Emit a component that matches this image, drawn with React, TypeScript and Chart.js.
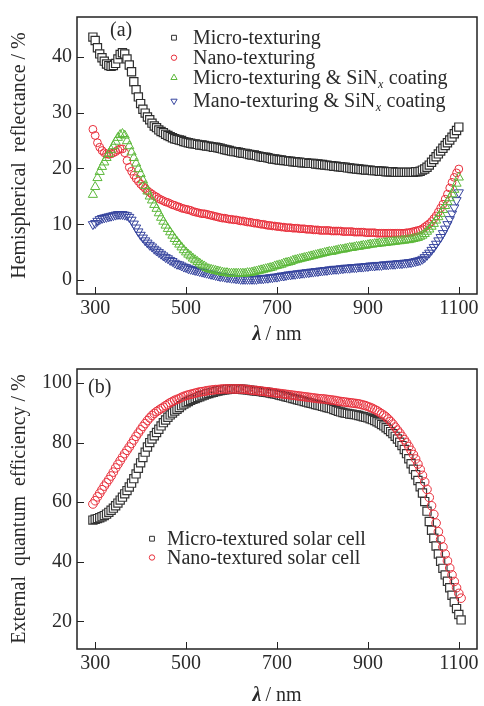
import { useEffect, useRef } from "react";
import { Chart, registerables } from "chart.js";

Chart.register(...registerables);

const FONT = '"Liberation Serif", "DejaVu Serif", "Times New Roman", serif';
const TEXT = "#2a2a2a";

// ---------- Panel (a): hemispherical reflectance ----------
const waveA = [
  295, 300, 305, 310, 315, 320, 325, 330, 335, 340,
  345, 350, 355, 360, 365, 370, 375, 380, 385, 390,
  395, 400, 405, 410, 415, 420, 425, 430, 435, 440,
  445, 450, 455, 460, 465, 470, 475, 480, 485, 490,
  495, 500, 505, 510, 515, 520, 525, 530, 535, 540,
  545, 550, 555, 560, 565, 570, 575, 580, 585, 590,
  595, 600, 605, 610, 615, 620, 625, 630, 635, 640,
  645, 650, 655, 660, 665, 670, 675, 680, 685, 690,
  695, 700, 705, 710, 715, 720, 725, 730, 735, 740,
  745, 750, 755, 760, 765, 770, 775, 780, 785, 790,
  795, 800, 805, 810, 815, 820, 825, 830, 835, 840,
  845, 850, 855, 860, 865, 870, 875, 880, 885, 890,
  895, 900, 905, 910, 915, 920, 925, 930, 935, 940,
  945, 950, 955, 960, 965, 970, 975, 980, 985, 990,
  995, 1000, 1005, 1010, 1015, 1020, 1025, 1030, 1035, 1040,
  1045, 1050, 1055, 1060, 1065, 1070, 1075, 1080, 1085, 1090,
  1095, 1100,
];

const microTexturing = [
  43.5, 42.9, 41.6, 40.5, 39.8, 39.2, 38.7, 38.4, 38.3, 38.4,
  38.8, 39.6, 40.4, 40.7, 40.5, 39.6, 38.5, 37.3, 35.5, 34.1,
  32.8, 31.6, 30.6, 29.9, 29.2, 28.7, 28.1, 27.6, 27.3, 26.9,
  26.6, 26.4, 26.1, 25.9, 25.7, 25.5, 25.3, 25.2, 25.1, 25.0,
  24.8, 24.7, 24.6, 24.5, 24.4, 24.4, 24.3, 24.2, 24.2, 24.1,
  24.0, 24.0, 23.9, 23.8, 23.8, 23.7, 23.6, 23.5, 23.4, 23.3,
  23.2, 23.1, 23.0, 23.0, 22.9, 22.8, 22.7, 22.7, 22.6, 22.5,
  22.4, 22.4, 22.3, 22.2, 22.1, 22.0, 22.0, 21.9, 21.8, 21.7,
  21.7, 21.6, 21.5, 21.5, 21.4, 21.4, 21.3, 21.3, 21.2, 21.2,
  21.1, 21.1, 21.0, 21.0, 21.0, 20.9, 20.9, 20.9, 20.8, 20.8,
  20.7, 20.7, 20.6, 20.6, 20.5, 20.5, 20.4, 20.4, 20.3, 20.3,
  20.2, 20.2, 20.1, 20.1, 20.0, 20.0, 19.9, 19.9, 19.8, 19.8,
  19.7, 19.7, 19.7, 19.6, 19.6, 19.6, 19.5, 19.5, 19.5, 19.4,
  19.4, 19.4, 19.4, 19.3, 19.3, 19.3, 19.3, 19.3, 19.3, 19.3,
  19.3, 19.3, 19.4, 19.4, 19.5, 19.7, 19.9, 20.2, 20.6, 21.1,
  21.6, 22.1, 22.6, 23.1, 23.6, 24.1, 24.6, 25.1, 25.6, 26.2,
  26.8, 27.4,
];

const nanoTexturing = [
  27.0, 25.9, 24.6, 23.8, 23.2, 22.8, 22.6, 22.5, 22.6, 22.8,
  23.0, 23.3, 23.5, 23.5, 22.8, 21.4, 20.2, 19.5, 18.8, 18.2,
  17.7, 17.2, 16.8, 16.4, 16.0, 15.7, 15.4, 15.1, 14.9, 14.6,
  14.4, 14.2, 14.0, 13.9, 13.7, 13.5, 13.4, 13.2, 13.1, 12.9,
  12.8, 12.7, 12.6, 12.5, 12.3, 12.2, 12.1, 12.0, 11.9, 11.9,
  11.8, 11.7, 11.6, 11.5, 11.4, 11.3, 11.2, 11.1, 11.1, 11.0,
  10.9, 10.9, 10.8, 10.8, 10.7, 10.6, 10.6, 10.5, 10.4, 10.4,
  10.3, 10.2, 10.2, 10.1, 10.0, 10.0, 9.9, 9.8, 9.8, 9.7,
  9.7, 9.6, 9.6, 9.5, 9.5, 9.4, 9.4, 9.4, 9.3, 9.3,
  9.3, 9.2, 9.2, 9.2, 9.1, 9.1, 9.1, 9.0, 9.0, 9.0,
  8.9, 8.9, 8.9, 8.9, 8.9, 8.8, 8.8, 8.8, 8.8, 8.8,
  8.7, 8.7, 8.7, 8.7, 8.7, 8.6, 8.6, 8.6, 8.6, 8.6,
  8.5, 8.5, 8.5, 8.5, 8.5, 8.4, 8.4, 8.4, 8.4, 8.4,
  8.4, 8.4, 8.4, 8.4, 8.4, 8.4, 8.4, 8.4, 8.5, 8.5,
  8.6, 8.7, 8.8, 8.9, 9.0, 9.2, 9.5, 9.8, 10.1, 10.5,
  11.0, 11.5, 12.2, 12.9, 13.6, 14.5, 15.4, 16.5, 17.5, 18.4,
  19.2, 19.9,
];

const microSiNx = [
  15.3, 16.7, 18.3, 19.4, 20.3, 21.1, 21.9, 22.6, 23.3, 24.0,
  24.8, 25.5, 26.0, 26.2, 25.9, 24.9, 24.0, 22.9, 21.9, 20.9,
  19.9, 19.0, 17.9, 16.9, 15.9, 15.0, 14.3, 13.5, 12.8, 12.0,
  11.2, 10.5, 9.8, 9.2, 8.6, 8.0, 7.4, 6.9, 6.4, 5.9,
  5.4, 5.0, 4.6, 4.3, 3.9, 3.6, 3.3, 3.0, 2.7, 2.5,
  2.2, 2.0, 1.9, 1.8, 1.7, 1.6, 1.5, 1.4, 1.3, 1.3,
  1.2, 1.2, 1.2, 1.2, 1.2, 1.2, 1.2, 1.2, 1.3, 1.3,
  1.4, 1.5, 1.6, 1.7, 1.8, 1.9, 2.0, 2.1, 2.2, 2.3,
  2.5, 2.6, 2.7, 2.8, 3.0, 3.1, 3.2, 3.3, 3.5, 3.6,
  3.7, 3.8, 3.9, 4.0, 4.1, 4.2, 4.3, 4.4, 4.5, 4.6,
  4.7, 4.8, 4.9, 5.0, 5.1, 5.1, 5.2, 5.3, 5.4, 5.5,
  5.5, 5.6, 5.7, 5.8, 5.8, 5.9, 6.0, 6.0, 6.1, 6.2,
  6.2, 6.3, 6.4, 6.4, 6.5, 6.5, 6.6, 6.6, 6.7, 6.7,
  6.8, 6.8, 6.9, 6.9, 7.0, 7.0, 7.1, 7.1, 7.2, 7.2,
  7.3, 7.4, 7.5, 7.6, 7.8, 8.0, 8.3, 8.7, 9.1, 9.6,
  10.1, 10.7, 11.3, 11.9, 12.6, 13.3, 14.0, 14.7, 15.4, 16.2,
  17.3, 18.4,
];

const nanoSiNx = [
  10.0, 10.2, 10.6, 10.9, 11.1, 11.2, 11.3, 11.4, 11.5, 11.6,
  11.7, 11.8, 11.8, 11.8, 11.7, 11.6, 11.3, 10.8, 10.1, 9.4,
  8.7, 8.1, 7.6, 7.1, 6.7, 6.3, 6.0, 5.6, 5.3, 5.0,
  4.7, 4.4, 4.1, 3.9, 3.6, 3.4, 3.1, 2.9, 2.8, 2.6,
  2.4, 2.3, 2.1, 2.0, 1.9, 1.8, 1.7, 1.6, 1.5, 1.4,
  1.3, 1.2, 1.1, 1.0, 0.9, 0.8, 0.7, 0.7, 0.6, 0.5,
  0.5, 0.4, 0.4, 0.3, 0.3, 0.2, 0.2, 0.2, 0.2, 0.2,
  0.2, 0.2, 0.2, 0.3, 0.3, 0.3, 0.4, 0.4, 0.5, 0.5,
  0.6, 0.6, 0.7, 0.8, 0.8, 0.9, 1.0, 1.0, 1.1, 1.1,
  1.2, 1.2, 1.3, 1.3, 1.4, 1.4, 1.5, 1.5, 1.6, 1.6,
  1.7, 1.7, 1.8, 1.8, 1.9, 1.9, 2.0, 2.0, 2.0, 2.1,
  2.1, 2.2, 2.2, 2.2, 2.3, 2.3, 2.3, 2.4, 2.4, 2.4,
  2.5, 2.5, 2.6, 2.6, 2.6, 2.7, 2.7, 2.7, 2.8, 2.8,
  2.8, 2.9, 2.9, 2.9, 3.0, 3.0, 3.0, 3.1, 3.1, 3.2,
  3.2, 3.3, 3.4, 3.5, 3.6, 3.8, 4.1, 4.5, 4.9, 5.4,
  5.9, 6.5, 7.1, 7.7, 8.4, 9.2, 10.0, 10.9, 11.9, 13.0,
  14.3, 15.7,
];

// ---------- Panel (b): external quantum efficiency ----------
const waveB = [...waveA, 1105];

const microCellEqe = [
  54.0, 54.3, 54.5, 54.8, 55.1, 55.5, 56.0, 56.6, 57.3, 58.0,
  58.8, 59.7, 60.7, 61.7, 62.8, 63.9, 65.1, 66.4, 67.9, 69.5,
  71.4, 73.2, 75.0, 76.8, 78.5, 80.0, 81.2, 82.3, 83.4, 84.5,
  85.6, 86.7, 87.6, 88.5, 89.3, 89.9, 90.6, 91.2, 91.8, 92.4,
  92.9, 93.4, 93.8, 94.2, 94.5, 94.8, 95.1, 95.4, 95.7, 96.0,
  96.3, 96.5, 96.7, 96.9, 97.1, 97.3, 97.5, 97.6, 97.7, 97.8,
  97.9, 97.9, 97.9, 97.9, 97.9, 97.9, 97.8, 97.8, 97.7, 97.6,
  97.5, 97.4, 97.3, 97.2, 97.1, 97.0, 96.9, 96.8, 96.6, 96.5,
  96.4, 96.2, 96.0, 95.8, 95.6, 95.4, 95.2, 95.0, 94.8, 94.6,
  94.4, 94.2, 94.0, 93.8, 93.6, 93.4, 93.2, 93.0, 92.8, 92.6,
  92.4, 92.2, 92.0, 91.8, 91.6, 91.4, 91.1, 90.8, 90.5, 90.3,
  90.1, 89.9, 89.8, 89.6, 89.5, 89.4, 89.3, 89.1, 88.9, 88.7,
  88.5, 88.3, 88.0, 87.7, 87.4, 87.0, 86.6, 86.1, 85.6, 85.0,
  84.4, 83.7, 83.0, 82.1, 81.2, 80.1, 79.0, 77.7, 76.3, 74.6,
  72.9, 71.1, 69.2, 67.3, 65.2, 63.1, 60.2, 57.0, 53.5, 50.6,
  47.9, 45.3, 42.6, 40.2, 37.8, 35.6, 33.5, 31.3, 28.8, 26.5,
  24.3, 22.3, 20.5,
];

const nanoCellEqe = [
  59.4, 60.5, 61.8, 63.0, 64.2, 65.4, 66.5, 67.6, 68.8, 70.1,
  71.5, 72.7, 73.9, 75.1, 76.3, 77.4, 78.5, 79.7, 80.9, 82.1,
  83.2, 84.3, 85.4, 86.4, 87.4, 88.3, 89.1, 89.8, 90.4, 90.9,
  91.4, 91.9, 92.4, 92.9, 93.4, 93.8, 94.2, 94.5, 94.8, 95.2,
  95.5, 95.8, 96.0, 96.2, 96.4, 96.6, 96.8, 97.0, 97.1, 97.2,
  97.4, 97.5, 97.6, 97.7, 97.8, 97.8, 97.9, 98.0, 98.0, 98.0,
  98.0, 98.0, 98.0, 98.0, 98.0, 98.0, 97.9, 97.9, 97.8, 97.7,
  97.6, 97.5, 97.5, 97.4, 97.3, 97.2, 97.1, 97.0, 96.9, 96.8,
  96.7, 96.6, 96.5, 96.4, 96.3, 96.2, 96.1, 96.0, 95.9, 95.8,
  95.7, 95.6, 95.5, 95.4, 95.3, 95.2, 95.1, 95.0, 94.9, 94.8,
  94.7, 94.7, 94.6, 94.5, 94.4, 94.3, 94.2, 94.1, 93.9, 93.8,
  93.7, 93.6, 93.5, 93.4, 93.3, 93.2, 93.1, 93.0, 92.8, 92.6,
  92.4, 92.1, 91.8, 91.5, 91.1, 90.7, 90.2, 89.7, 89.2, 88.6,
  87.9, 87.1, 86.2, 85.2, 84.2, 83.2, 82.1, 81.0, 79.9, 78.7,
  77.4, 76.0, 74.5, 72.8, 71.0, 69.0, 66.8, 64.3, 61.6, 58.8,
  55.9, 53.0, 50.1, 47.5, 45.0, 42.6, 40.3, 37.9, 35.6, 33.4,
  31.3, 29.4, 27.8,
];

// ---------- ticks and labels ----------
const xTicks = [300, 500, 700, 900, 1100];
const yTicksA = [0, 10, 20, 30, 40];
const yTicksB = [20, 40, 60, 80, 100];
const legendLabelsA = [
  "Micro-texturing",
  "Nano-texturing",
  "Micro-texturing & SiNx coating",
  "Mano-texturing & SiNx coating",
];
const legendLabelsB = ["Micro-textured solar cell", "Nano-textured solar cell"];

const BLACK = "#2e2e2e";
const RED = "#e8303c";
const GREEN = "#5cb83a";
const BLUE = "#36449e";

type Marker = { style: string; color: string; fill: string; r: number };

function drawMarker(ctx: CanvasRenderingContext2D, m: Marker, x: number, y: number) {
  ctx.beginPath();
  const r = m.r;
  if (m.style === "rect") {
    ctx.rect(x - r, y - r, 2 * r, 2 * r);
  } else if (m.style === "circle") {
    ctx.arc(x, y, r, 0, Math.PI * 2);
  } else if (m.style === "up") {
    ctx.moveTo(x, y - r);
    ctx.lineTo(x + r * 0.866, y + r * 0.5);
    ctx.lineTo(x - r * 0.866, y + r * 0.5);
    ctx.closePath();
  } else {
    ctx.moveTo(x, y + r);
    ctx.lineTo(x + r * 0.866, y - r * 0.5);
    ctx.lineTo(x - r * 0.866, y - r * 0.5);
    ctx.closePath();
  }
  ctx.fillStyle = m.fill;
  ctx.fill();
  ctx.strokeStyle = m.color;
  ctx.lineWidth = 1;
  ctx.stroke();
}

function drawLabel(ctx: CanvasRenderingContext2D, text: string, x: number, y: number) {
  const base = `20px ${FONT}`;
  ctx.font = base;
  ctx.fillStyle = TEXT;
  ctx.textAlign = "left";
  ctx.textBaseline = "middle";
  const i = text.indexOf("SiNx");
  if (i < 0) {
    ctx.fillText(text, x, y);
    return;
  }
  const head = text.slice(0, i + 3);
  const tail = text.slice(i + 4);
  ctx.fillText(head, x, y);
  let w = ctx.measureText(head).width;
  ctx.font = `italic 12px ${FONT}`;
  ctx.fillText("x", x + w + 0.5, y + 6);
  w += ctx.measureText("x").width + 1;
  ctx.font = base;
  ctx.fillText(tail, x + w, y);
}

type Overlay = {
  tag: string;
  tagX: number;
  tagY: number;
  yTitle: string;
  xTitleY: number;
  yTicks: number[];
  legend: string[];
  markers: Marker[];
  markerX: number;
  textX: number;
  rows: number[];
};

function overlayPlugin(o: Overlay) {
  return {
    id: "overlay",
    afterDraw(chart: any) {
      const { ctx, chartArea: a, scales } = chart;
      ctx.save();
      ctx.strokeStyle = "#222";
      ctx.lineWidth = 1;
      xTicks.forEach((v) => {
        const x = Math.round(scales.x.getPixelForValue(v)) + 0.5;
        ctx.beginPath();
        ctx.moveTo(x, a.bottom);
        ctx.lineTo(x, a.bottom - 7);
        ctx.stroke();
      });
      o.yTicks.forEach((v) => {
        const y = Math.round(scales.y.getPixelForValue(v)) + 0.5;
        ctx.beginPath();
        ctx.moveTo(a.left, y);
        ctx.lineTo(a.left + 7, y);
        ctx.stroke();
      });
      ctx.lineWidth = 1.5;
      ctx.strokeRect(a.left, a.top, a.right - a.left, a.bottom - a.top);

      // x title: λ / nm
      ctx.fillStyle = TEXT;
      ctx.textBaseline = "middle";
      ctx.textAlign = "left";
      const lam = "λ";
      const rest = "/ nm";
      ctx.font = `bold italic 20px ${FONT}`;
      const w1 = ctx.measureText(lam).width;
      ctx.font = `20px ${FONT}`;
      const w2 = ctx.measureText(rest).width;
      const cx = (a.left + a.right) / 2;
      const x0 = cx - (w1 + 4 + w2) / 2;
      ctx.font = `bold italic 20px ${FONT}`;
      ctx.fillText(lam, x0, o.xTitleY);
      ctx.font = `20px ${FONT}`;
      ctx.fillText(rest, x0 + w1 + 4, o.xTitleY);

      // y title
      ctx.save();
      ctx.translate(20, (a.top + a.bottom) / 2);
      ctx.rotate(-Math.PI / 2);
      ctx.textAlign = "center";
      ctx.textBaseline = "middle";
      ctx.font = `20px ${FONT}`;
      ctx.fillText(o.yTitle, 0, 0);
      ctx.restore();

      // panel tag
      ctx.font = `20px ${FONT}`;
      ctx.textAlign = "left";
      ctx.textBaseline = "middle";
      ctx.fillText(o.tag, o.tagX, o.tagY);

      // legend
      o.legend.forEach((label, i) => {
        drawMarker(ctx, o.markers[i], o.markerX, o.rows[i] - 1);
        drawLabel(ctx, label, o.textX, o.rows[i]);
      });
      ctx.restore();
    },
  };
}

function baseScales(yMin: number, yMax: number, yTicks: number[], xAxisH: number) {
  const tickFont = { family: FONT, size: 20 };
  return {
    x: {
      type: "linear",
      min: 260,
      max: 1140,
      grid: { display: false, drawTicks: false },
      border: { display: false },
      ticks: {
        font: tickFont,
        color: TEXT,
        padding: 3,
        maxRotation: 0,
        autoSkip: false,
        callback: (v: number) => String(v),
      },
      afterBuildTicks: (s: any) => {
        s.ticks = xTicks.map((v) => ({ value: v }));
      },
      afterFit: (s: any) => {
        s.height = xAxisH;
      },
    },
    y: {
      type: "linear",
      min: yMin,
      max: yMax,
      grid: { display: false, drawTicks: false },
      border: { display: false },
      ticks: {
        font: tickFont,
        color: TEXT,
        padding: 5,
        autoSkip: false,
        callback: (v: number) => String(v),
      },
      afterBuildTicks: (s: any) => {
        s.ticks = yTicks.map((v) => ({ value: v }));
      },
      afterFit: (s: any) => {
        s.width = 77;
      },
    },
  };
}

function pts(xs: number[], ys: number[]) {
  return xs.map((x, i) => ({ x, y: ys[i] }));
}

const mBlack: Marker = { style: "rect", color: BLACK, fill: "#fff", r: 2.4 };
const mRed: Marker = { style: "circle", color: RED, fill: "rgba(0,0,0,0)", r: 2.7 };
const mGreen: Marker = { style: "up", color: GREEN, fill: "rgba(0,0,0,0)", r: 3.6 };
const mBlue: Marker = { style: "down", color: BLUE, fill: "rgba(0,0,0,0)", r: 3.6 };

function configA(): any {
  return {
    type: "scatter",
    data: {
      datasets: [
        {
          label: legendLabelsA[0],
          data: pts(waveA, microTexturing),
          pointStyle: "rect",
          pointRadius: 5.8,
          borderColor: BLACK,
          backgroundColor: "#ffffff",
          borderWidth: 1.2,
          order: 0,
        },
        {
          label: legendLabelsA[1],
          data: pts(waveA, nanoTexturing),
          pointStyle: "circle",
          pointRadius: 3.9,
          borderColor: RED,
          backgroundColor: "rgba(0,0,0,0)",
          borderWidth: 1,
          order: 2,
        },
        {
          label: legendLabelsA[2],
          data: pts(waveA, microSiNx),
          pointStyle: "triangle",
          pointRadius: 5.3,
          borderColor: GREEN,
          backgroundColor: "rgba(0,0,0,0)",
          borderWidth: 1,
          order: 1,
        },
        {
          label: legendLabelsA[3],
          data: pts(waveA, nanoSiNx),
          pointStyle: "triangle",
          rotation: 180,
          pointRadius: 5.3,
          borderColor: BLUE,
          backgroundColor: "rgba(0,0,0,0)",
          borderWidth: 1,
          order: 3,
        },
      ],
    },
    options: {
      responsive: false,
      animation: false,
      devicePixelRatio: 1,
      events: [],
      layout: { padding: { top: 13, right: 4, left: 0, bottom: 0 } },
      plugins: { legend: { display: false }, tooltip: { enabled: false } },
      scales: baseScales(-2.47, 47.1, yTicksA, 51),
    },
    plugins: [
      overlayPlugin({
        tag: "(a)",
        tagX: 110,
        tagY: 31,
        yTitle: "Hemispherical  reflectance / %",
        xTitleY: 335,
        yTicks: yTicksA,
        legend: legendLabelsA,
        markers: [mBlack, mRed, mGreen, mBlue],
        markerX: 174,
        textX: 193,
        rows: [38.7, 58.7, 78.7, 102],
      }),
    ],
  };
}

function configB(): any {
  return {
    type: "scatter",
    data: {
      datasets: [
        {
          label: legendLabelsB[0],
          data: pts(waveB, microCellEqe),
          pointStyle: "rect",
          pointRadius: 5.8,
          borderColor: "#353535",
          backgroundColor: "#ffffff",
          borderWidth: 1.2,
          order: 1,
        },
        {
          label: legendLabelsB[1],
          data: pts(waveB, nanoCellEqe),
          pointStyle: "circle",
          pointRadius: 4.3,
          borderColor: RED,
          backgroundColor: "rgba(0,0,0,0)",
          borderWidth: 1,
          order: 0,
        },
      ],
    },
    options: {
      responsive: false,
      animation: false,
      devicePixelRatio: 1,
      events: [],
      layout: { padding: { top: 24, right: 4, left: 0, bottom: 0 } },
      plugins: { legend: { display: false }, tooltip: { enabled: false } },
      scales: baseScales(10.74, 104.7, yTicksB, 57),
    },
    plugins: [
      overlayPlugin({
        tag: "(b)",
        tagX: 88,
        tagY: 42.5,
        yTitle: "External  quantum  efficiency / %",
        xTitleY: 351,
        yTicks: yTicksB,
        legend: legendLabelsB,
        markers: [mBlack, mRed],
        markerX: 152,
        textX: 167,
        rows: [194.7, 213.5],
      }),
    ],
  };
}

export default function App() {
  const refA = useRef<HTMLCanvasElement>(null);
  const refB = useRef<HTMLCanvasElement>(null);

  useEffect(() => {
    const a = new Chart(refA.current as HTMLCanvasElement, configA());
    const b = new Chart(refB.current as HTMLCanvasElement, configB());
    return () => {
      a.destroy();
      b.destroy();
    };
  }, []);

  return (
    <div
      style={{
        position: "absolute",
        left: 0,
        top: 0,
        width: 484,
        height: 706,
        background: "#ffffff",
      }}
    >
      <canvas
        ref={refA}
        width={484}
        height={345}
        style={{ position: "absolute", left: 0, top: 0, width: 484, height: 345 }}
      />
      <canvas
        ref={refB}
        width={484}
        height={361}
        style={{ position: "absolute", left: 0, top: 345, width: 484, height: 361 }}
      />
    </div>
  );
}
